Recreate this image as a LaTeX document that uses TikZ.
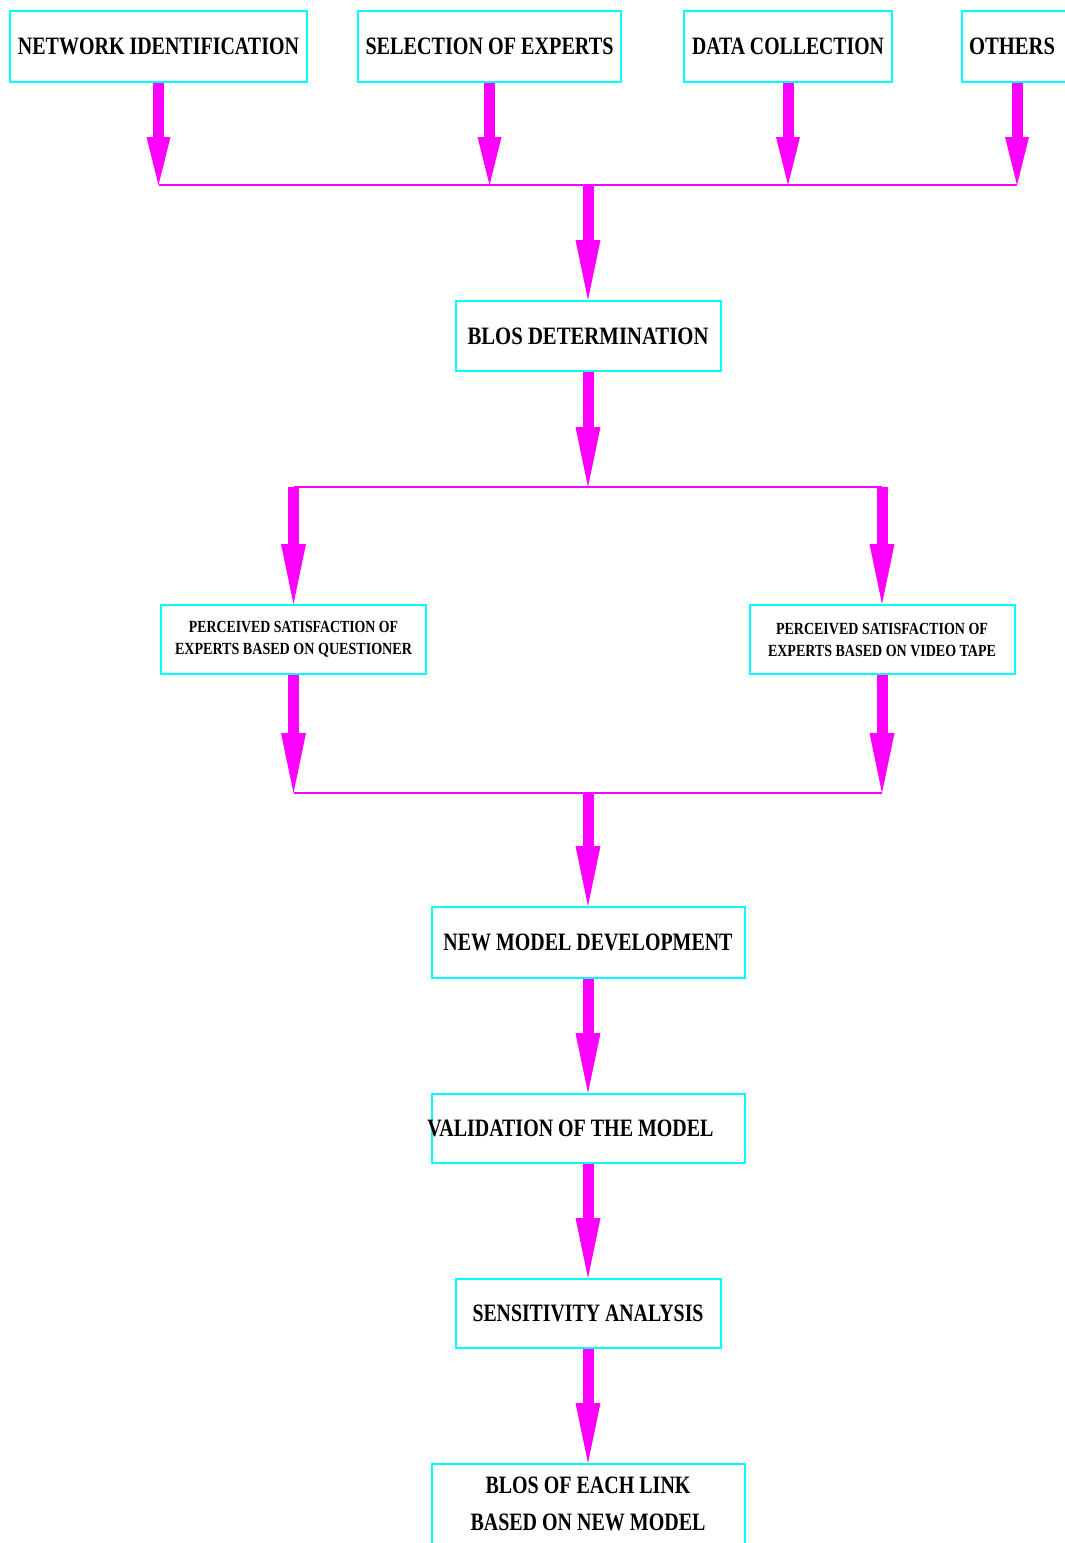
\documentclass[tikz,border=0pt]{standalone}
\usepackage{fontspec}
\setmainfont{Liberation Serif}
\usetikzlibrary{arrows.meta}
\definecolor{boxcyan}{RGB}{0,255,255}
\definecolor{flowmag}{RGB}{255,0,255}
\newcommand{\fitw}[2]{\resizebox{#1pt}{\height}{#2}}
\begin{document}
\begin{tikzpicture}[x=1pt,y=-1pt,
  stepbox/.style={draw=boxcyan,line width=2pt,rectangle,inner sep=0pt,minimum height=71pt,text=black,font=\fontsize{25}{28}\selectfont\bfseries},
  smallbox/.style={stepbox,font=\fontsize{17}{22}\selectfont\bfseries,align=center,minimum height=69pt,minimum width=265pt},
  textonly/.style={inner sep=0pt,text=black,font=\fontsize{25}{28}\selectfont\bfseries},
  bigarrow/.style={draw=flowmag,line width=11pt,-{Triangle[length=60pt,width=25pt,line width=0pt]}},
  toparrow/.style={draw=flowmag,line width=11pt,-{Triangle[length=48pt,width=24pt,line width=0pt]}},
  joinline/.style={draw=flowmag,line width=2pt}]
\useasboundingbox (0,0) rectangle (1065,1543);
\fill[white] (0,0) rectangle (1065,1543);

% top row
\node[stepbox,minimum width=297pt] (net) at (158.5,46.5) {\fitw{281}{NETWORK IDENTIFICATION}};
\node[stepbox,minimum width=263pt] (sel) at (489.5,46.5) {\fitw{248}{SELECTION OF EXPERTS}};
\node[stepbox,minimum width=208pt] (dat) at (788,46.5) {\fitw{192}{DATA COLLECTION}};
\node[stepbox,minimum width=110pt] (oth) at (1017,46.5) {\hspace*{-10pt}\fitw{86}{OTHERS}};

\node[stepbox,minimum width=265pt,minimum height=70pt] (blos) at (588,336) {\fitw{241}{BLOS DETERMINATION}};

\node[smallbox] (pq) at (293.5,639.5) {\fitw{209}{PERCEIVED SATISFACTION OF}\\\fitw{237}{EXPERTS BASED ON QUESTIONER}};
\node[smallbox] (pv) at (882,639.5) {\fitw{212}{PERCEIVED SATISFACTION OF}\\\fitw{228}{EXPERTS BASED ON VIDEO TAPE}};

\node[stepbox,minimum width=313pt] (nmd) at (588,942.5) {\fitw{289}{NEW MODEL DEVELOPMENT}};
\node[stepbox,minimum width=313pt,minimum height=69pt] (val) at (588,1128.5) {\hspace*{-35pt}\fitw{286}{VALIDATION OF THE MODEL}};
\node[stepbox,minimum width=265pt,minimum height=69pt] (sen) at (588,1313.5) {\fitw{231}{SENSITIVITY ANALYSIS}};
\node[stepbox,minimum width=313pt,minimum height=100pt] (bl) at (588,1514) {};
\node[textonly] (bl1) at (588,1485) {\fitw{205}{BLOS OF EACH LINK}};
\node[textonly] (bl2) at (588,1522) {\fitw{235}{BASED ON NEW MODEL}};

% junctions
\coordinate (j1) at (588,185);
\coordinate (j2) at (588,487);
\coordinate (j3) at (588,793);

\draw[joinline] (net.south |- j1) -- (oth.south |- j1);
\foreach \n in {net,sel,dat,oth}{
  \draw[toparrow] (\n.south) -- (\n.south |- j1);
}
\draw[bigarrow] (j1) -- (blos.north);
\draw[bigarrow] (blos.south) -- (j2);
\draw[joinline] (pq.north |- j2) -- (pv.north |- j2);
\draw[bigarrow] (pq.north |- j2) -- (pq.north);
\draw[bigarrow] (pv.north |- j2) -- (pv.north);
\draw[joinline] (pq.south |- j3) -- (pv.south |- j3);
\draw[bigarrow] (pq.south) -- (pq.south |- j3);
\draw[bigarrow] (pv.south) -- (pv.south |- j3);
\draw[bigarrow] (j3) -- (nmd.north);
\draw[bigarrow] (nmd.south) -- (val.north);
\draw[bigarrow] (val.south) -- (sen.north);
\draw[bigarrow] (sen.south) -- (bl.north);
\end{tikzpicture}
\end{document}
